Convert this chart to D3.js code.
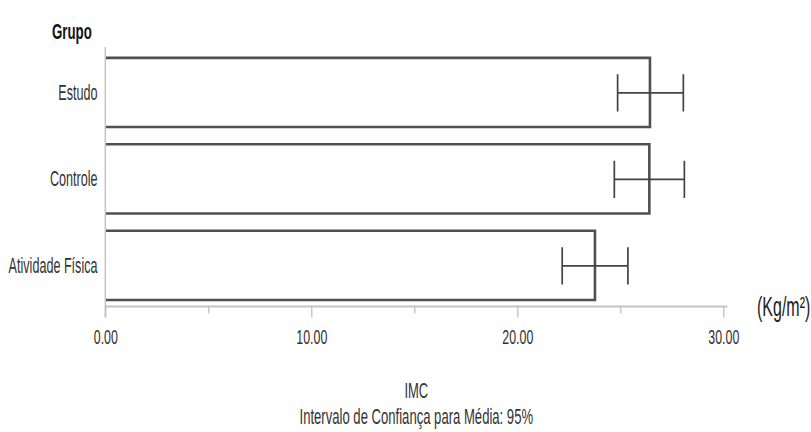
<!DOCTYPE html>
<html>
<head>
<meta charset="utf-8">
<script src="https://cdn.jsdelivr.net/npm/d3@7"></script>
<style>
  html, body { margin: 0; padding: 0; background: #fff; }
  svg { display: block; }
  text { font-family: "Liberation Sans", Arial, sans-serif; fill: #333; }
</style>
</head>
<body>
<svg id="chart" width="811" height="432"></svg>
<script>
// data
const groups = ['Estudo', 'Controle', 'Atividade Física'];
const means = [26.44, 26.41, 23.77];
const ci_low = [24.87, 24.71, 22.18];
const ci_high = [28.06, 28.11, 25.37];
const major_ticks = [0, 10, 20, 30];
const minor_ticks = [5, 15, 25];

const width = 811;
const height = 432;
const stretch = 1.7; // text in the reference is squeezed/tall

const svg = d3.select('#chart');
svg.append('rect').attr('width', width).attr('height', height).attr('fill', '#fff');

const x = d3.scaleLinear().domain([0, 30]).range([105.3, 723.3]);
const axis_y = 306.5;
const y = d3.scaleBand()
  .domain(groups)
  .range([48, axis_y])
  .paddingInner(0.2)
  .paddingOuter(0.095)
  .align(0.6);

// tall text helper
function tall_text(sel, tx, ty, str, size, anchor, weight, fill) {
  return sel.append('text')
    .attr('transform', `translate(${tx},${ty}) scale(1,${stretch})`)
    .attr('text-anchor', anchor)
    .attr('dy', '0.35em')
    .attr('font-size', size)
    .attr('font-weight', weight || 'normal')
    .style('fill', fill || '#333')
    .text(str);
}

// 1. bars (top, right, bottom edges only)
const rows = groups.map((g, i) => ({ g, mean: means[i], lo: ci_low[i], hi: ci_high[i] }));

const bar_g = svg.append('g');
bar_g.selectAll('rect')
  .data(rows)
  .enter()
  .append('rect')
  .attr('x', x(0))
  .attr('y', d => y(d.g))
  .attr('width', d => x(d.mean) - x(0))
  .attr('height', y.bandwidth())
  .attr('fill', '#fff');

bar_g.selectAll('path')
  .data(rows)
  .enter()
  .append('path')
  .attr('d', d => {
    const y0 = y(d.g), y1 = y(d.g) + y.bandwidth(), x1 = x(d.mean);
    return `M${x(0)},${y0}H${x1}V${y1}H${x(0)}`;
  })
  .attr('fill', 'none')
  .attr('stroke', '#505050')
  .attr('stroke-width', 2.6);

// 2. error bars
const err_g = svg.append('g')
  .attr('stroke', '#444')
  .attr('stroke-width', 1.7)
  .attr('fill', 'none');
const cap = y.bandwidth() * 0.27;
err_g.selectAll('path')
  .data(rows)
  .enter()
  .append('path')
  .attr('d', d => {
    const cy = y(d.g) + y.bandwidth() / 2 + 0.5;
    const a = x(d.lo), b = x(d.hi);
    return `M${a},${cy}H${b}M${a},${cy - cap}V${cy + cap}M${b},${cy - cap}V${cy + cap}`;
  });

// 3. axes
svg.append('line')
  .attr('x1', x(0)).attr('x2', x(0))
  .attr('y1', 47).attr('y2', axis_y + 11)
  .attr('stroke', '#c4c4c4').attr('stroke-width', 1.5);

const x_axis = svg.append('g')
  .attr('transform', `translate(0,${axis_y})`)
  .call(d3.axisBottom(x)
    .tickValues(major_ticks)
    .tickSize(11)
    .tickSizeOuter(0)
    .tickFormat(d3.format('.2f')));

x_axis.select('.domain')
  .attr('d', `M${x(0)},0H${x(30) + 4}`)
  .attr('stroke', '#c4c4c4')
  .attr('stroke-width', 2);
x_axis.selectAll('.tick line').attr('stroke', '#bbb').attr('stroke-width', 1.2);
x_axis.selectAll('.tick text')
  .attr('y', null)
  .attr('dy', '0.35em')
  .attr('transform', `translate(0,${337 - axis_y}) scale(1,${stretch})`)
  .attr('font-size', 12.4)
  .attr('font-family', '"Liberation Sans", Arial, sans-serif')
  .style('fill', '#333');

const minor_axis = svg.append('g')
  .attr('transform', `translate(0,${axis_y})`)
  .call(d3.axisBottom(x).tickValues(minor_ticks).tickSize(7).tickFormat(''));
minor_axis.select('.domain').remove();
minor_axis.selectAll('.tick line').attr('stroke', '#bbb').attr('stroke-width', 1.2);

// 4. labels
groups.forEach(g => {
  tall_text(svg, 97.5, y(g) + y.bandwidth() / 2, g, 12.6, 'end');
});

tall_text(svg, 52, 31, 'Grupo', 13.3, 'start', 'bold', '#111');
tall_text(svg, 757, 306, '(Kg/m²)', 16, 'start', 'normal', '#222');
tall_text(svg, (x(0) + x(30)) / 2 + 2, 390, 'IMC', 13, 'middle');
tall_text(svg, (x(0) + x(30)) / 2 + 2, 416, 'Intervalo de Confiança para Média: 95%', 13.1, 'middle');
</script>
</body>
</html>
